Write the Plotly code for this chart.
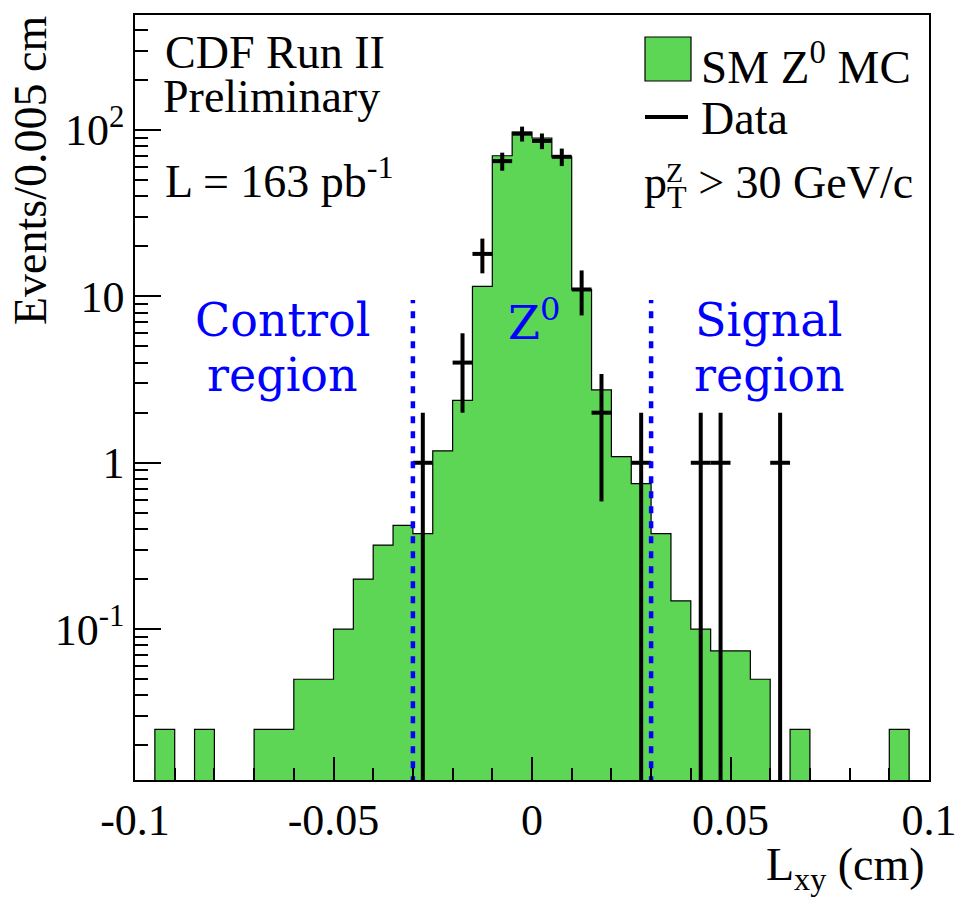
import math
import plotly.graph_objects as go

# ---------------- data ----------------
BIN_LO = -0.1
BIN_W = 0.005
N_BINS = 40

# SM Z0 MC expectation per bin (events / 0.005 cm)
mc_values = [0, 0.025, 0, 0.025, 0, 0, 0.025, 0.025, 0.05, 0.05,
             0.1, 0.2, 0.32, 0.42, 0.375, 1.18, 2.37, 11.5, 70, 97,
             89.5, 69, 11, 2.74, 1.09, 0.75, 0.375, 0.148, 0.1, 0.074,
             0.074, 0.05, 0, 0.025, 0, 0, 0, 0, 0.025, 0]

# observed data counts per bin
data_counts = [0, 0, 0, 0, 0, 0, 0, 0, 0, 0,
               0, 0, 0, 0, 1, 0, 4, 18, 65, 95,
               86, 69, 11, 2, 0, 1, 0, 0, 1, 1,
               0, 0, 1, 0, 0, 0, 0, 0, 0, 0]

region_cut = 0.03          # |Lxy| boundaries of control / signal regions
region_line_top = 9.5      # top of the dashed boundary lines

x_tick_vals = [-0.1, -0.05, 0, 0.05, 0.1]
x_tick_text = ["-0.1", "-0.05", "0", "0.05", "0.1"]
y_tick_vals = [0.1, 1, 10, 100]
y_tick_text = ["10<sup>-1</sup>", "1", "10", "10<sup>2</sup>"]

Y_MIN, Y_MAX = 0.0124, 491
FLOOR = 1e-4  # below visible range; clipped away

# ---------------- derived geometry ----------------
edges = [BIN_LO + BIN_W * i for i in range(N_BINS + 1)]
centers = [BIN_LO + BIN_W * (i + 0.5) for i in range(N_BINS)]

# MC step polygon
px, py = [edges[0]], [FLOOR]
for i, v in enumerate(mc_values):
    vv = max(v, FLOOR)
    px += [edges[i], edges[i + 1]]
    py += [vv, vv]
px.append(edges[-1]); py.append(FLOOR)
px.append(edges[0]); py.append(FLOOR)

# data error bars (vertical + horizontal segments)
dx, dy = [], []
for i, n in enumerate(data_counts):
    if n <= 0:
        continue
    s = math.sqrt(n)
    lo = max(n - s, FLOOR)
    hi = n + s
    dx += [centers[i], centers[i], None, edges[i], edges[i + 1], None]
    dy += [lo, hi, None, n, n, None]

fig = go.Figure()
fig.add_trace(go.Scatter(x=px, y=py, mode="lines", fill="toself",
                         fillcolor="#5cd654",
                         line=dict(color="black", width=1.2),
                         showlegend=False, hoverinfo="skip"))
fig.add_trace(go.Scatter(x=dx, y=dy, mode="lines",
                         line=dict(color="black", width=4),
                         showlegend=False, hoverinfo="skip"))
for xc in (-region_cut, region_cut):
    fig.add_trace(go.Scatter(x=[xc, xc], y=[FLOOR, region_line_top], mode="lines",
                             line=dict(color="#0000ff", width=4.5, dash="7px,8px"),
                             showlegend=False, hoverinfo="skip"))

SERIF = "Liberation Serif"
BLUEF = "DejaVu Serif"

# plot area in pixels: x 135..929, y 15..780
L, R, T, B = 135, 929, 15, 780
def xp(p): return (p - L) / (R - L)
def yp(p): return (B - p) / (B - T)

ann = []
def txt(text, x, y, size=46, xanchor="left", color="black", family=SERIF, **kw):
    ann.append(dict(text=text, x=xp(x), y=yp(y), xref="paper", yref="paper",
                    xanchor=xanchor, yanchor="middle", showarrow=False,
                    font=dict(family=family, size=size, color=color), **kw))

txt("CDF Run II", 163, 52)
txt("Preliminary", 161, 97)
txt("L = 163 pb<sup>-1</sup>", 163, 178)
txt("SM Z<sup>0</sup> MC", 699, 64, size=47)
txt("Data", 699, 119)
txt("p<sub>T</sub> > 30 GeV/c", 642, 186)
txt("Z", 664, 172, size=28)

txt("Control", 282, 320, xanchor="center", color="#0000ff", family=BLUEF)
txt("region", 282, 375, xanchor="center", color="#0000ff", family=BLUEF)
txt("Z<sup>0</sup>", 534, 320, xanchor="center", color="#0000ff", family=BLUEF)
txt("Signal", 768, 320, xanchor="center", color="#0000ff", family=BLUEF)
txt("region", 769, 375, xanchor="center", color="#0000ff", family=BLUEF)

txt("L<sub>xy</sub> (cm)", 927, 868, xanchor="right")
ann.append(dict(text="Events/0.005 cm", x=xp(30), y=yp(171), xref="paper", yref="paper",
                xanchor="center", yanchor="middle", showarrow=False, textangle=-90,
                font=dict(family=SERIF, size=46, color="black")))

shapes = [
    dict(type="rect", xref="paper", yref="paper",
         x0=xp(645), x1=xp(691), y0=yp(81), y1=yp(37),
         fillcolor="#5cd654", line=dict(color="black", width=1.2)),
    dict(type="line", xref="paper", yref="paper",
         x0=xp(645), x1=xp(688), y0=yp(117), y1=yp(117),
         line=dict(color="black", width=4)),
]

minor_y = []
for dec in (0.01, 0.1, 1, 10, 100):
    for m in range(2, 10):
        v = m * dec
        if Y_MIN < v < Y_MAX:
            minor_y.append(v)

fig.update_layout(
    width=959, height=898, autosize=False,
    margin=dict(l=L, r=959 - R, t=T, b=898 - B, autoexpand=False),
    paper_bgcolor="white", plot_bgcolor="white",
    annotations=ann, shapes=shapes, showlegend=False,
    xaxis=dict(range=[-0.1, 0.1], tickvals=x_tick_vals, ticktext=x_tick_text,
               automargin=False,
               ticks="inside", ticklen=23, tickwidth=1.5, tickcolor="black",
               minor=dict(dtick=0.01, ticks="inside", ticklen=12, tickwidth=1.5,
                          tickcolor="black", showgrid=False),
               showline=True, linecolor="black", linewidth=1.5, mirror=True,
               showgrid=False, zeroline=False,
               tickfont=dict(family=SERIF, size=44, color="black")),
    yaxis=dict(type="log", range=[math.log10(Y_MIN), math.log10(Y_MAX)],
               tickvals=y_tick_vals, ticktext=y_tick_text,
               automargin=False,
               ticks="inside", ticklen=26, tickwidth=1.5, tickcolor="black",
               minor=dict(tickvals=minor_y, ticks="inside", ticklen=13, tickwidth=1.5,
                          tickcolor="black", showgrid=False),
               showline=True, linecolor="black", linewidth=1.5, mirror=True,
               showgrid=False, zeroline=False,
               tickfont=dict(family=SERIF, size=44, color="black")),
)

fig.write_html("out.html")
